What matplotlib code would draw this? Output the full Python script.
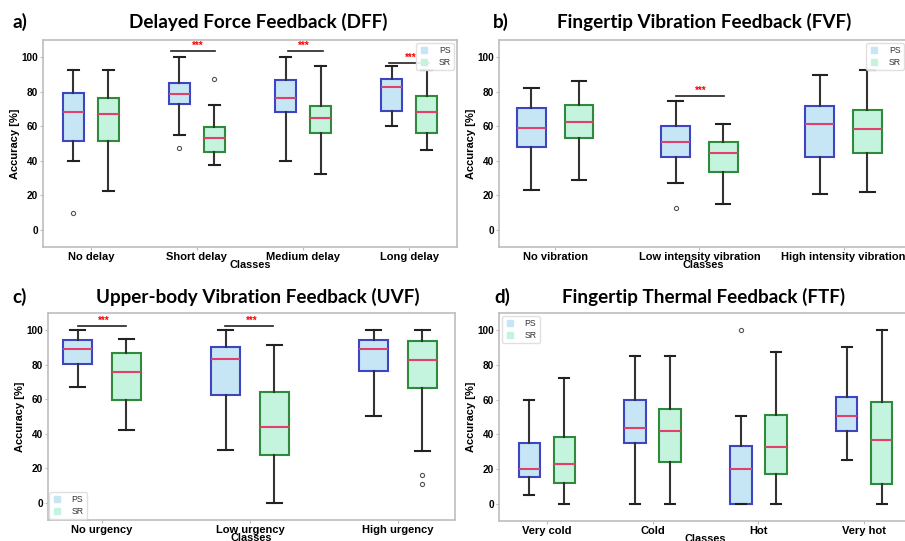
import numpy as np
import matplotlib.pyplot as plt
from matplotlib.lines import Line2D
from matplotlib.patches import Rectangle

# Datos: [bigote inf, Q1, mediana, Q3, bigote sup]
dff_classes = ["No delay", "Short delay", "Medium delay", "Long delay"]
dff_ps = [[40, 51.5, 68.5, 79.2, 92.7], [55, 72.7, 78.8, 85, 100],
          [40, 68.3, 76.3, 86.9, 100], [60, 68.8, 82.9, 87.5, 95]]
dff_ps_out = [[10], [47.5], [], []]
dff_sr = [[22.3, 51.5, 67.3, 76.5, 92.7], [37.5, 44.8, 52.9, 59.4, 72.5],
          [32.5, 55.8, 64.6, 71.9, 95], [46, 55.8, 68.5, 77.7, 92.7]]
dff_sr_out = [[], [87.5], [], []]

fvf_classes = ["No vibration", "Low intensity vibration", "High intensity vibration"]
fvf_ps = [[23, 47.7, 59.2, 70.3, 82.4], [27.2, 42.1, 51.1, 60.2, 74.5],
          [21, 42.1, 61.1, 72, 90]]
fvf_ps_out = [[], [12.6], []]
fvf_sr = [[28.7, 53.1, 62.3, 72.2, 86.2], [14.8, 33.5, 44.3, 50.6, 61.5],
          [22, 44.4, 58.4, 69.2, 92.7]]
fvf_sr_out = [[], [], []]

uvf_classes = ["No urgency", "Low urgency", "High urgency"]
uvf_ps = [[66.9, 80.7, 89.1, 94.6, 100], [30.7, 62.5, 83.5, 90.4, 100],
          [50.4, 76.4, 89.1, 94.6, 100]]
uvf_ps_out = [[], [], []]
uvf_sr = [[42.1, 59.8, 75.9, 86.8, 94.8], [0, 27.8, 43.9, 64.2, 91.4],
          [30.1, 66.3, 82.8, 93.7, 100]]
uvf_sr_out = [[], [], [16.3, 11.1]]

ftf_classes = ["Very cold", "Cold", "Hot", "Very hot"]
ftf_ps = [[5.2, 15.1, 20.1, 35.1, 60], [0, 34.9, 43.7, 60, 85.2],
          [0, 0, 20.1, 33.5, 50.4], [25.1, 41.8, 50.4, 61.3, 90.2]]
ftf_ps_out = [[], [], [100], []]
ftf_sr = [[0, 12.1, 22.6, 38.3, 72.6], [0, 24.3, 42.1, 54.6, 85.4],
          [0, 17.4, 32.8, 51, 87.7], [0, 11.5, 36.8, 58.6, 100]]
ftf_sr_out = [[], [], [], []]

# Barras de significancia: (grupo, inicio, fin, altura)
dff_sig = [(1, -0.24, 0.17, 103.5), (2, -0.14, 0.19, 103.5), (3, -0.19, 0.19, 96.5)]
fvf_sig = [(1, -0.16, 0.17, 77.6)]
uvf_sig = [(0, -0.16, 0.165, 102.5), (1, -0.17, 0.155, 102.5)]
ftf_sig = []

W, H = 905, 541
ps_face, ps_edge = "#c6e6f5", "#3f45c0"
sr_face, sr_edge = "#c4f3de", "#2f8a3c"
med_col = "#e0406a"
spine_col = "#bdbdbd"
tfont = "Liberation Sans"
hfont = "Lato"

fig = plt.figure(figsize=(W / 100, H / 100), dpi=100)


def make_stats(vals, outs):
    return [dict(whislo=v[0], q1=v[1], med=v[2], q3=v[3], whishi=v[4], fliers=o)
            for v, o in zip(vals, outs)]


def panel(box, classes, ps, ps_out, sr, sr_out, sig, xlim, leg_loc, leg_pad,
          letter, title, letter_x, title_x, base_y):
    x0, y0, x1, y1 = box
    ax = fig.add_axes([x0 / W, 1 - y1 / H, (x1 - x0) / W, (y1 - y0) / H])
    n = len(classes)
    pos = np.arange(n)
    for vals, outs, off, fc, ec in [(ps, ps_out, -0.165, ps_face, ps_edge),
                                    (sr, sr_out, 0.165, sr_face, sr_edge)]:
        ax.bxp(make_stats(vals, outs), positions=pos + off, widths=0.2,
               patch_artist=True, manage_ticks=False,
               boxprops=dict(facecolor=fc, edgecolor=ec, linewidth=1.5),
               medianprops=dict(color=med_col, linewidth=1.5),
               whiskerprops=dict(color="#333333", linewidth=1.5),
               capprops=dict(color="#222222", linewidth=1.5),
               flierprops=dict(marker="o", markersize=3, markerfacecolor="none",
                               markeredgecolor="#555555", markeredgewidth=0.8))
    for g, a, b, y in sig:
        ax.plot([g + a, g + b], [y, y], color="#222222", linewidth=1.2)
        ax.text(g + 0.01, y + 0.3, "***", color="red", fontsize=7, fontweight="bold",
                ha="center", va="bottom", family=tfont)
    ax.set_xlim(*xlim)
    ax.set_ylim(-10, 110)
    ax.set_yticks([0, 20, 40, 60, 80, 100])
    ax.set_xticks(pos)
    ax.set_xticklabels(classes)
    for lab in ax.get_xticklabels():
        lab.set_fontsize(8)
        lab.set_fontweight("bold")
        lab.set_family(tfont)
    for lab in ax.get_yticklabels():
        lab.set_fontsize(7.2)
        lab.set_fontweight("bold")
        lab.set_family(tfont)
    ax.tick_params(length=2.5, width=0.8, color=spine_col, pad=1)
    for s in ax.spines.values():
        s.set_color(spine_col)
        s.set_linewidth(1.2)
    ax.set_ylabel("Accuracy [%]", fontsize=8, fontweight="bold", family=tfont, labelpad=1)
    ax.set_xlabel("Classes", fontsize=7.8, fontweight="bold", family=tfont, labelpad=-1)
    handles = [Line2D([], [], marker="s", ls="", color=ps_face, markersize=3.8, label="PS"),
               Line2D([], [], marker="s", ls="", color=sr_face, markersize=3.8, label="SR")]
    ax.legend(handles=handles, loc=leg_loc, borderaxespad=leg_pad,
              prop=dict(family=tfont, size=6.3), labelcolor="#333333", handlelength=1.0,
              handletextpad=1.2, borderpad=0.35, labelspacing=0.3,
              framealpha=0.9, edgecolor="#dddddd")
    fig.text(letter_x / W, 1 - base_y / H, letter, fontsize=13.6, fontweight="bold",
             family=hfont, va="baseline", ha="left")
    fig.text(title_x / W, 1 - base_y / H, title, fontsize=13.6, fontweight="bold",
             family=hfont, va="baseline", ha="center")
    return ax


panel((43, 40, 457, 247), dff_classes, dff_ps, dff_ps_out, dff_sr, dff_sr_out, dff_sig,
      (-0.45, 3.45), "upper right", 0.35, "a)", "Delayed Force Feedback (DFF)", 12, 258, 28.3)
panel((499, 40, 907, 247), fvf_classes, fvf_ps, fvf_ps_out, fvf_sr, fvf_sr_out, fvf_sig,
      (-0.39, 2.44), "upper right", 0.35, "b)", "Fingertip Vibration Feedback (FVF)", 493, 704, 28.3)
panel((48, 313, 455, 520), uvf_classes, uvf_ps, uvf_ps_out, uvf_sr, uvf_sr_out, uvf_sig,
      (-0.365, 2.385), "lower left", 0.15, "c)", "Upper-body Vibration Feedback (UVF)", 12, 258, 303)
panel((499, 313, 912, 521), ftf_classes, ftf_ps, ftf_ps_out, ftf_sr, ftf_sr_out, ftf_sig,
      (-0.45, 3.45), "upper left", 0.35, "d)", "Fingertip Thermal Feedback (FTF)", 494, 704, 302.7)

# la imagen original recorta la etiqueta "Classes" de los paneles superiores
fig.add_artist(Rectangle((0, 1 - 276 / H), 1, 5 / H, transform=fig.transFigure,
                         facecolor="white", edgecolor="none", zorder=5))

fig.savefig("out.png", dpi=100)
